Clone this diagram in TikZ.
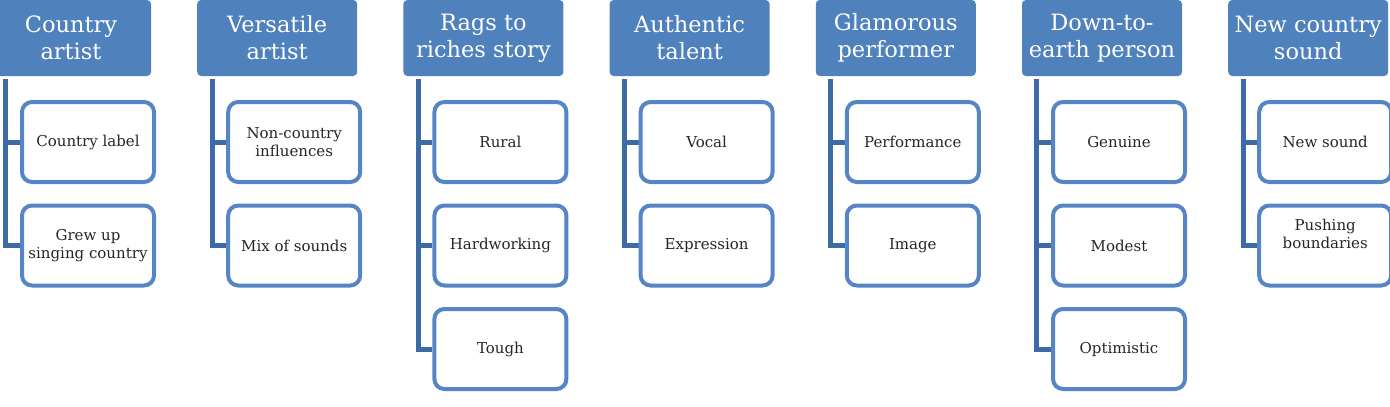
\documentclass[tikz,border=0pt]{standalone}
\usepackage{fontspec}
\setmainfont{DejaVu Serif}
\usetikzlibrary{calc,backgrounds}
\definecolor{hdrblue}{HTML}{4F81BD}
\definecolor{leafblue}{HTML}{5585C4}
\definecolor{linkblue}{HTML}{3E6BA6}
\definecolor{leaftext}{HTML}{262626}
\begin{document}
\begin{tikzpicture}[x=1pt,y=1pt,
  hdr/.style={fill=hdrblue, rounded corners=4pt, minimum width=160pt,
    minimum height=76pt, inner sep=0pt, text=white, align=center,
    font=\fontsize{22.5}{27}\selectfont},
  leaf/.style={draw=leafblue, line width=4pt, fill=white, rounded corners=10pt,
    minimum width=132pt, minimum height=80pt, inner sep=0pt, align=center,
    text=leaftext, font=\fontsize{15}{18}\selectfont},
  link/.style={draw=linkblue, line width=5pt}]
\useasboundingbox (0,0) rectangle (1390,-407);
\clip (0,0) rectangle (1390,-407);

% one column: header plus its list of items
\newcommand{\branch}[3]{%
  \node[hdr] (h#1) at ({-9+206.2*(#1-1)+80},-38) {#2};
  \foreach \txt [count=\k] in {#3} {
    \node[leaf] (c#1-\k) at ({-9+206.2*(#1-1)+97},{-142-103.5*(\k-1)}) {\txt};
    \begin{scope}[on background layer]
      \draw[link] ($(h#1.south west)+(15,-3)$) |- (c#1-\k.west);
    \end{scope}
  }%
}

\branch{1}{Country\\artist}{Country label,{Grew up\\singing country}}
\branch{2}{Versatile\\artist}{{Non-country\\influences},Mix of sounds}
\branch{3}{Rags to\\riches story}{Rural,Hardworking,Tough}
\branch{4}{Authentic\\talent}{Vocal,Expression}
\branch{5}{Glamorous\\performer}{Performance,Image}
\branch{6}{Down-to-\\earth person}{Genuine,Modest,Optimistic}
\branch{7}{New country\\sound}{New sound,{\raisebox{24pt}{\shortstack{Pushing\\boundaries}}}}
\end{tikzpicture}
\end{document}
